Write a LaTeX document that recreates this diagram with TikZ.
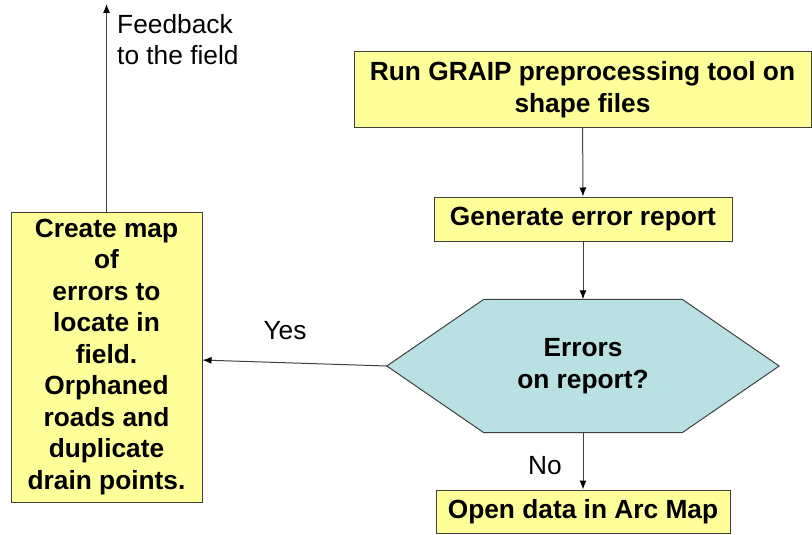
\documentclass[tikz,border=0pt]{standalone}
\usepackage{fontspec}
\setmainfont{Liberation Sans}
\usetikzlibrary{arrows.meta,calc,backgrounds}
\definecolor{boxyellow}{RGB}{255,255,153}
\definecolor{hexcyan}{RGB}{185,224,227}
\tikzset{
  procbox/.style={draw=black!75, line width=1pt, fill=boxyellow, align=center, inner sep=0pt,
    font=\bfseries\fontsize{26.3}{31.5}\selectfont},
  hexnode/.style={align=center, inner sep=0pt, minimum width=392pt, minimum height=133pt,
    font=\bfseries\fontsize{26.3}{31.5}\selectfont},
  flow/.style={draw=black!75, line width=1pt, -{Latex[length=9pt,width=7pt]}, arrows={[black]}},
  plain/.style={font=\fontsize{26.3}{31}\selectfont, inner sep=0pt}
}
\begin{document}
\begin{tikzpicture}[x=1pt, y=-1pt]
  \useasboundingbox (0,0) rectangle (812,535);
  \node[procbox, minimum width=457pt, minimum height=75pt] (graip) at (582.5,89.5) {Run GRAIP preprocessing tool on\\shape files};
  \node[procbox, minimum width=298pt, minimum height=44pt] (report) at (583,219) {Generate error report};
  \node[hexnode] (errq) at (583,366) {Errors\\on report?};
  \node[procbox, minimum width=294pt, minimum height=43pt] (arcmap) at (583,511.5) {Open data in Arc Map};
  \node[procbox, minimum width=191pt, minimum height=290pt] (errmap) at (106.5,357)
    {Create map\\of\\errors to\\locate in\\field.\\Orphaned\\roads and\\duplicate\\drain points.};
  \coordinate (fb) at (106.5,4);
  % hexagon behind the question
  \begin{scope}[on background layer]
    \draw[draw=black!75, line width=1pt, fill=hexcyan] (errq.west) -- ($(errq.north west)+(97,0)$) -- ($(errq.north east)+(-97,0)$)
      -- (errq.east) -- ($(errq.south east)+(-97,0)$) -- ($(errq.south west)+(97,0)$) -- cycle;
  \end{scope}
  \draw[flow] (graip) -- (report);
  \draw[flow] (report) -- (errq.north);
  \draw[flow] (errq.south) -- (arcmap);
  \draw[flow] (errq.west) -- (errmap);
  \draw[flow] (errmap) -- (fb);
  \node[plain] (yes) at (285,331) {Yes};
  \node[plain] (no) at (545,466) {No};
  \node[plain, anchor=west, align=left] (fbtext) at (117,40) {Feedback\\to the field};
\end{tikzpicture}
\end{document}
